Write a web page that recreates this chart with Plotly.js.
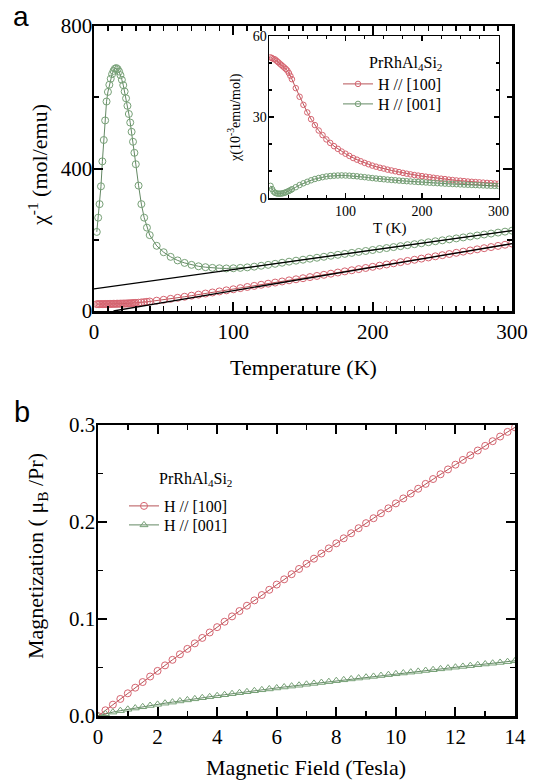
<!DOCTYPE html>
<html><head><meta charset="utf-8">
<script src="https://cdn.plot.ly/plotly-3.0.1.min.js"></script>
<style>html,body{margin:0;padding:0;background:#fff}#chart{width:539px;height:780px}</style>
</head><body><div id="chart"></div>
<script>
// ---------- Panel a: inverse susceptibility vs temperature ----------
const tempMain = [2,3,4,5,6,7,8,9,10,11,12,13,14,15,16,17,18,19,20,21,22,23,24,25,26,27,28,29,30,
  32,34,36,38,40,
  45,50,55,60,65,70,75,80,85,90,95,100,105,110,115,120,125,130,135,140,145,150,155,160,165,170,175,180,185,190,195,200,
  205,210,215,220,225,230,235,240,245,250,255,260,265,270,275,280,285,290,295,300];
const invChi100 = [19.2,19.2,19.3,19.3,19.4,19.4,19.5,19.6,19.7,19.8,19.9,20.0,20.1,20.2,20.3,20.4,20.5,20.6,20.7,20.8,20.9,21.0,21.2,21.4,21.6,21.8,22.1,22.4,22.7,
  23.3,24.1,24.9,25.8,26.7,
  29.0,31.5,34.2,37.0,40.0,43.0,46.0,49.0,52.0,55.0,58.0,61.0,64.2,67.4,70.5,73.6,76.7,79.8,82.9,86.0,89.0,92.0,95.2,98.4,101.6,104.8,108.0,111.2,114.4,117.6,120.8,124.0,
  127.3,130.6,133.9,137.2,140.5,143.8,147.1,150.3,153.5,156.7,160.0,163.3,166.6,169.9,173.1,176.3,179.5,182.7,186.0,189.3];
const invChi001 = [222,262,300,350,420,480,535,588,615,635,652,665,674,680,682,679,672,662,649,634,616,597,576,553,529,503,475,444,412,
  352,300,262,234,213,
  183,165,152,142,135,129.5,125.5,123,121,120,119.5,120,121,122.5,124.5,127,129.5,132.5,135.5,138.5,141.3,144,146.8,149.5,152.2,155,157.7,160.4,163.1,165.8,168.5,171.2,
  174,176.7,179.4,182.1,184.8,187.5,190.2,193,195.7,198.4,201.1,203.8,206.5,209.2,212,214.7,217.4,220.1,222.8,225.5];
// Curie-Weiss fit lines
const fitT100 = [14, 300];
const fitV100 = [0, 189];
const fitT001 = [0, 300];
const fitV001 = [62, 225.5];

// ---------- Inset: susceptibility (10^-3 emu/mol) ----------
const tempInset = [2,4,6,8,10,12,14,16,18,20,22,24,26,28,30,35,40,45,50,55,60,65,70,75,80,85,90,95,100,105,110,115,120,125,130,135,140,145,150,
  155,160,165,170,175,180,185,190,195,200,205,210,215,220,225,230,235,240,245,250,255,260,265,270,275,280,285,290,295,300];
const chi100 = [52.1,51.8,51.5,51.3,50.8,50.3,49.8,49.3,48.8,48.3,47.8,47.2,46.3,45.2,44.0,40.7,37.5,34.5,31.7,29.2,27.0,25.0,23.3,21.7,20.4,19.2,18.2,17.2,16.4,15.6,14.8,14.2,13.6,13.0,12.5,12.0,11.6,11.2,10.9,
  10.5,10.2,9.9,9.6,9.3,9.0,8.75,8.5,8.3,8.1,7.9,7.7,7.5,7.3,7.15,7.0,6.8,6.65,6.5,6.4,6.25,6.1,6.0,5.9,5.8,5.7,5.6,5.5,5.4,5.3];
const chi001 = [4.5,3.3,2.4,1.9,1.7,1.6,1.6,1.65,1.75,1.9,2.1,2.35,2.6,2.9,3.25,4.0,4.8,5.45,6.0,6.55,7.04,7.41,7.72,7.97,8.13,8.26,8.33,8.37,8.33,8.26,8.16,8.03,7.87,7.72,7.55,7.38,7.22,7.08,6.94,
  6.81,6.69,6.57,6.45,6.34,6.23,6.13,6.03,5.93,5.84,5.75,5.66,5.57,5.49,5.41,5.33,5.26,5.18,5.11,5.04,4.97,4.91,4.84,4.78,4.72,4.66,4.6,4.54,4.49,4.43];

// ---------- Panel b: magnetization vs field ----------
const field = [0,0.25,0.5,0.75,1,1.25,1.5,1.75,2,2.25,2.5,2.75,3,3.25,3.5,3.75,4,4.25,4.5,4.75,5,5.25,5.5,5.75,6,6.25,6.5,6.75,7,
  7.25,7.5,7.75,8,8.25,8.5,8.75,9,9.25,9.5,9.75,10,10.25,10.5,10.75,11,11.25,11.5,11.75,12,12.25,12.5,12.75,13,13.25,13.5,13.75,14];
const mag100 = [0,0.0059,0.0117,0.0176,0.0234,0.0292,0.0350,0.0407,0.0465,0.0522,0.0579,0.0636,0.0692,0.0749,0.0805,0.0861,0.0916,0.0972,0.1027,0.1082,0.1137,0.1192,0.1247,0.1301,0.1355,0.1409,0.1462,0.1516,0.1569,
  0.1622,0.1675,0.1728,0.1780,0.1832,0.1884,0.1936,0.1988,0.2039,0.2090,0.2141,0.2192,0.2243,0.2293,0.2343,0.2393,0.2443,0.2492,0.2542,0.2591,0.2640,0.2688,0.2737,0.2785,0.2833,0.2881,0.2929,0.2976];
const mag001 = [0,0.0023,0.0040,0.0055,0.0069,0.0082,0.0095,0.0108,0.0120,0.0132,0.0143,0.0155,0.0166,0.0177,0.0188,0.0198,0.0209,0.0219,0.0230,0.0240,0.0250,0.0260,0.0270,0.0279,0.0289,0.0299,0.0308,0.0317,0.0327,
  0.0336,0.0345,0.0354,0.0364,0.0373,0.0382,0.0391,0.0400,0.0408,0.0417,0.0426,0.0435,0.0443,0.0452,0.0460,0.0469,0.0477,0.0486,0.0494,0.0503,0.0511,0.0519,0.0528,0.0536,0.0544,0.0552,0.0560,0.0569];

const seriesNames = ['H // [100]', 'H // [001]'];
const compound = 'PrRhAl<sub>4</sub>Si<sub>2</sub>';

// ---------- styling ----------
const W = 539, H = 780;
const px = v => v / W, py = v => 1 - v / H;
const RED = 'rgb(214,100,112)', REDLINE = 'rgb(165,40,45)';
const GRN = 'rgb(118,160,118)', GRNLINE = 'rgb(60,105,60)';
const SERIF = 'Liberation Serif';

function mk(x, y, xa, ya, color, lineColor, symbol, size, name, showlegend, legend) {
  const t = {
    x: x, y: y, xaxis: xa, yaxis: ya, type: 'scatter', mode: 'lines+markers', name: name,
    showlegend: showlegend,
    line: {color: lineColor, width: 0.8},
    marker: {symbol: symbol, size: size, color: color, line: {color: color, width: 1}},
    hoverinfo: 'skip'
  };
  if (legend) t.legend = legend;
  return t;
}

const traces = [
  mk(tempMain, invChi100, 'x', 'y', RED, REDLINE, 'circle-open', 7, seriesNames[0], false),
  mk(tempMain, invChi001, 'x', 'y', GRN, GRNLINE, 'circle-open', 7, seriesNames[1], false),
  {x: fitT100, y: fitV100, xaxis: 'x', yaxis: 'y', mode: 'lines', line: {color: 'black', width: 1.3}, showlegend: false, hoverinfo: 'skip'},
  {x: fitT001, y: fitV001, xaxis: 'x', yaxis: 'y', mode: 'lines', line: {color: 'black', width: 1.3}, showlegend: false, hoverinfo: 'skip'},
  mk(tempInset, chi100, 'x2', 'y2', RED, REDLINE, 'circle-open', 5.5, seriesNames[0], true, 'legend'),
  mk(tempInset, chi001, 'x2', 'y2', GRN, GRNLINE, 'circle-open', 5.5, seriesNames[1], true, 'legend3'),
  mk(field, mag100, 'x3', 'y3', RED, REDLINE, 'circle-open', 7, seriesNames[0], true, 'legend2'),
  mk(field, mag001, 'x3', 'y3', GRN, GRNLINE, 'triangle-up-open', 7, seriesNames[1], true, 'legend4')
];

function ax(extra, big) {
  const base = {
    showline: true, linecolor: 'black', linewidth: big ? 2.5 : 1.5, mirror: 'ticks',
    ticks: 'inside', ticklen: big ? 9 : 5, tickwidth: big ? 2 : 1.3, tickcolor: 'black',
    showgrid: false, zeroline: false, fixedrange: true,
    tickfont: {family: SERIF, size: big ? 21 : 14, color: 'black'}
  };
  return Object.assign(base, extra);
}
const minor = (dt, big) => ({ticks: 'inside', ticklen: big ? 5 : 3, tickwidth: big ? 1.6 : 1.1, tickcolor: 'black', dtick: dt, tick0: 0, showgrid: false});

function leg(xLeft, yTop) {
  return {
    x: px(xLeft), y: py(yTop), xanchor: 'left', yanchor: 'top', bgcolor: 'rgba(0,0,0,0)', borderwidth: 0,
    font: {family: SERIF, size: 16, color: 'black'}, itemwidth: 30
  };
}
function ann(text, x, y, size, angle, family) {
  return {text: text, x: px(x), y: py(y), xref: 'paper', yref: 'paper', xanchor: 'center', yanchor: 'middle',
    showarrow: false, textangle: angle || 0, font: {family: family || SERIF, size: size, color: 'black'}};
}

const labelA = ann('a', 21, 0, 28, 0, 'Liberation Sans');
labelA.yanchor = 'top'; labelA.borderpad = 0;

const layout = {
  width: W, height: H, margin: {l: 0, r: 0, t: 0, b: 0},
  paper_bgcolor: 'white', plot_bgcolor: 'white', showlegend: true,
  font: {family: SERIF, color: 'black', size: 16},
  xaxis: ax({domain: [px(94), px(512)], anchor: 'y', range: [0, 300], tickmode: 'linear', tick0: 0, dtick: 100, minor: minor(10, true)}, true),
  yaxis: ax({domain: [py(311), py(26)], anchor: 'x', range: [0, 800], tickmode: 'linear', tick0: 0, dtick: 400, minor: minor(200, true), ticklabelstandoff: -5}, true),
  xaxis2: ax({domain: [px(269), px(498.5)], anchor: 'y2', range: [0, 300], tickmode: 'array', tickvals: [0, 100, 200, 300], ticktext: ['', '100', '200', '300'], minor: Object.assign(minor(25, false), {tickmode: 'linear'})}, false),
  yaxis2: ax({domain: [py(198), py(36)], anchor: 'x2', range: [0, 60], tickmode: 'linear', tick0: 0, dtick: 30, minor: minor(10, false), ticklabelstandoff: -2}, false),
  xaxis3: ax({domain: [px(98), px(515)], anchor: 'y3', range: [0, 14], tickmode: 'linear', tick0: 0, dtick: 2, minor: minor(1, true)}, true),
  yaxis3: ax({domain: [py(716), py(425)], anchor: 'x3', range: [0, 0.3], tickmode: 'linear', tick0: 0, dtick: 0.1, tickformat: '.1f', minor: minor(0.05, true), ticklabelstandoff: -4}, true),
  legend: leg(338, 67),
  legend3: leg(338, 87),
  legend2: leg(124, 489),
  legend4: leg(124, 508),
  annotations: [
    labelA,
    ann('b', 22, 412, 29, 0, 'Liberation Sans'),
    ann('χ<sup>-1</sup> (mol/emu)', 38, 165, 22, -90),
    ann('Temperature (K)', 303, 367, 22),
    ann('χ(10<sup>-3</sup>emu/mol)', 234, 118, 14, -90),
    ann('T (K)', 389, 228, 15),
    ann(compound, 405, 63, 16),
    ann('Magnetization ( μ<sub>B</sub> /Pr)', 37, 556, 22, -90),
    ann('Magnetic Field (Tesla)', 306, 767, 22),
    ann(compound, 195, 479, 16)
  ]
};

Plotly.newPlot('chart', traces, layout, {staticPlot: true, displayModeBar: false});
</script></body></html>
